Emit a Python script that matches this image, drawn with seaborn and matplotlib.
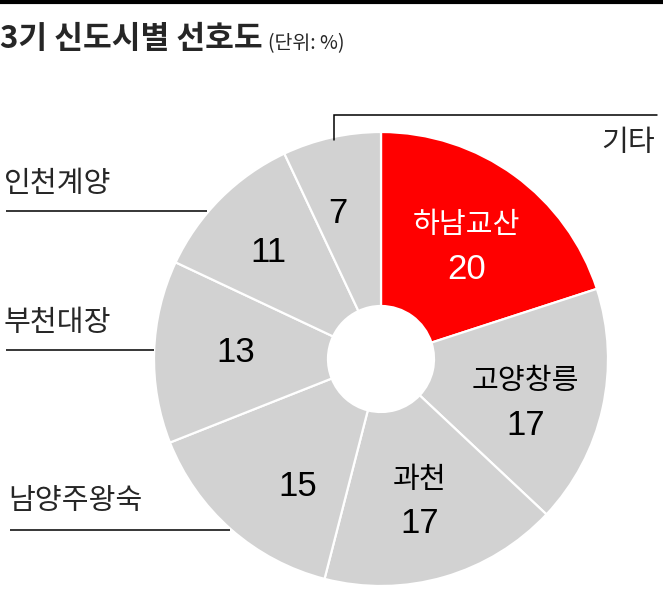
"""
Donut chart of preference by 3rd-phase new town (3기 신도시별 선호도).
"""

import numpy as np
import matplotlib.pyplot as plt
import seaborn as sns

# ── Data ──────────────────────────────────────────────────────────────────────

towns = ["하남교산", "고양창릉", "과천", "남양주왕숙", "부천대장", "인천계양", "기타"]
shares = [20, 17, 17, 15, 13, 11, 7]
# which slices carry their name inside the wedge
named_inside = ["하남교산", "고양창릉", "과천"]
# names written outside, on the left, with an underline
named_outside = ["인천계양", "부천대장", "남양주왕숙"]

TITLE = "3기 신도시별 선호도"
UNIT = "(단위: %)"

# ── Style ─────────────────────────────────────────────────────────────────────

W, H = 663, 589
RED = "#ff0000"
GREY = "#d2d2d2"
KR = ["Noto Sans CJK KR", "DejaVu Sans"]
NUM = ["Liberation Sans", "DejaVu Sans"]

sns.set_theme(style="white")
plt.rcParams["font.family"] = KR

CX, CY = 381, 359      # pie centre, pixel coords (y down)
R, HOLE = 227, 53

# label placement per slice: (radius, angle nudge in degrees, clockwise)
label_layout = {
    "하남교산": (141, 1.5),
    "고양창릉": (151, 4.4),
    "과천": (148, 1.2),
    "남양주왕숙": (152, -8.2),
    "부천대장": (145, 0.6),
    "인천계양": (155, -1.6),
    "기타": (152, -3.9),
}


def py(y):
    """pixel y (top-down) -> data y (bottom-up)"""
    return H - y


fig = plt.figure(figsize=(W / 100, H / 100), dpi=100)
ax = fig.add_axes([0, 0, 1, 1])

colors = [RED if t == "하남교산" else GREY for t in towns]
wedges, _ = ax.pie(
    shares,
    colors=colors,
    startangle=90,
    counterclock=False,
    center=(CX, py(CY)),
    radius=R,
    wedgeprops=dict(width=R - HOLE, edgecolor="white", linewidth=1.6),
)

ax.set_xlim(0, W)
ax.set_ylim(0, H)
ax.set_aspect("equal")
ax.axis("off")

# ── Wedge labels ──────────────────────────────────────────────────────────────

for w, town, val in zip(wedges, towns, shares):
    r, nudge = label_layout[town]
    mid = np.deg2rad((w.theta1 + w.theta2) / 2 - nudge)
    x = CX + r * np.cos(mid)
    y = py(CY) + r * np.sin(mid)
    col = "white" if town == "하남교산" else "black"
    if town in named_inside:
        ax.text(x, y + 22, town, ha="center", va="center",
                fontsize=21, fontweight="medium", color=col, family=KR)
        ax.text(x, y - 22, str(val), ha="center", va="center",
                fontsize=25, color=col, family=NUM)
    else:
        ax.text(x, y, str(val), ha="center", va="center",
                fontsize=25, color=col, family=NUM)

# ── Outside labels ────────────────────────────────────────────────────────────

outside_pos = {  # text left x, text centre y, underline end x, underline y
    "인천계양": (4, 184, 207, 211),
    "부천대장": (4, 323, 154, 350),
    "남양주왕숙": (8, 501, 230, 530),
}
for town in named_outside:
    tx, ty, lx, ly = outside_pos[town]
    ax.text(tx, py(ty), town, ha="left", va="center", fontsize=21,
            fontweight="medium", family=KR)
    ax.plot([tx + 2, lx], [py(ly), py(ly)], color="black", linewidth=1.1,
            solid_capstyle="butt")

# 기타 with bracket line
ax.text(655, py(143), "기타", ha="right", va="center", fontsize=21,
        fontweight="medium", family=KR)
ax.plot([334, 334, 657], [py(140), py(115), py(115)], color="black",
        linewidth=1.1, solid_joinstyle="miter")

# ── Title ─────────────────────────────────────────────────────────────────────

ax.plot([0, W], [py(1.5), py(1.5)], color="black", linewidth=3,
        solid_capstyle="butt")
ax.text(0, py(39), TITLE, ha="left", va="center", fontsize=22.5,
        fontweight="black", family=KR)
ax.text(268, py(44), UNIT, ha="left", va="center", fontsize=14, family=KR)

fig.savefig("out.png", dpi=100)
plt.close(fig)
